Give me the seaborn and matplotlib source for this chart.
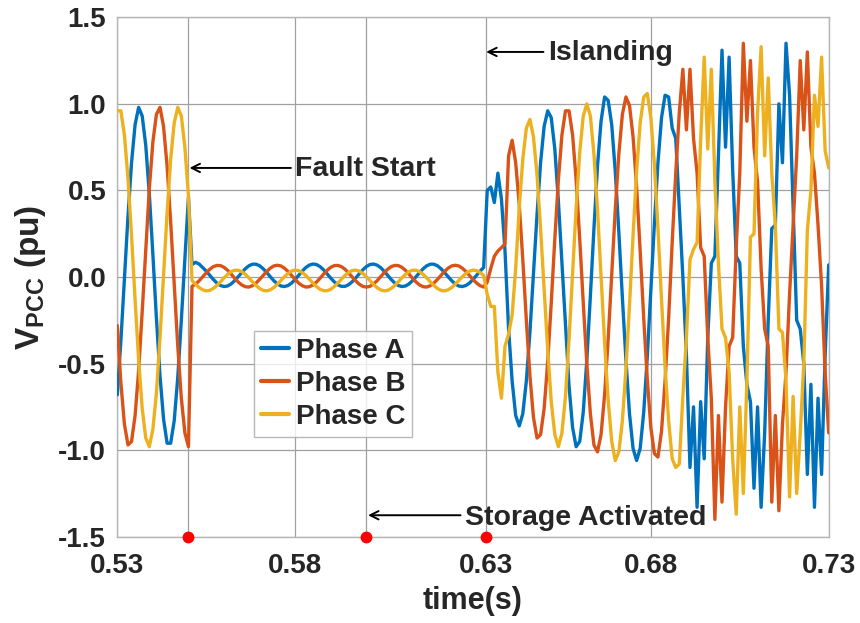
import numpy as np
import pandas as pd
import matplotlib
matplotlib.use('Agg')
import matplotlib.pyplot as plt
from matplotlib.lines import Line2D
import seaborn as sns

# ---------------- data ----------------
t_start = 0.530          # first sample time (s)
t_step = 0.001           # sample spacing (s)

# Phase A (blue)
phase_a_pre = [-0.68, -0.37, -0.01, 0.35, 0.66, 0.88, 0.98, 0.93, 0.76, 0.48, 0.13,
               -0.24, -0.57, -0.82, -0.96, -0.96, -0.83, -0.58, -0.25, 0.11, 0.46]
phase_a_fault = [0.072, 0.085, 0.075, 0.055, 0.034, 0.010, -0.014, -0.035, -0.049, -0.055,
                 -0.052, -0.040, -0.021, 0.002, 0.026, 0.048, 0.065, 0.074, 0.074, 0.065,
                 0.048, 0.026, 0.002, -0.021, -0.040, -0.052, -0.055, -0.049, -0.035, -0.014,
                 0.010, 0.034, 0.055, 0.069, 0.075, 0.072, 0.060, 0.041, 0.018, -0.006,
                 -0.028, -0.045, -0.054, -0.054, -0.045, -0.028, -0.006, 0.018, 0.041, 0.060,
                 0.072, 0.075, 0.069, 0.055, 0.034, 0.010, -0.014, -0.035, -0.049, -0.055,
                 -0.052, -0.040, -0.021, 0.002, 0.026, 0.048, 0.065, 0.074, 0.074, 0.065,
                 0.048, 0.026, 0.002, -0.021, -0.040, -0.052, -0.055, -0.049, -0.035, -0.014,
                 0.010, 0.034, 0.055]
phase_a_island = [0.50, 0.52, 0.43, 0.60, 0.45, 0.15, -0.30, -0.60, -0.80, -0.86,
                  -0.79, -0.60, -0.32, 0.02, 0.36, 0.66, 0.87, 0.96, 0.92, 0.74,
                  0.44, 0.08, -0.29, -0.63, -0.87, -0.98, -0.95, -0.78, -0.48, -0.11,
                  0.28, 0.64, 0.90, 1.04, 1.02, 0.88, 0.61, 0.26, -0.12, -0.48,
                  -0.79, -0.99, -1.06, -0.99, -0.78, -0.46, -0.08, 0.31, 0.66, 0.92,
                  1.05, 1.04, 0.86, 0.80, 0.40, 0.00, -0.45, -1.10, -0.75, -1.33,
                  -0.72, -1.05, -0.35, 0.08, 0.12, 0.70, 1.31, 0.75, 1.27, 0.62,
                  0.12, 0.08, -0.40, -0.62, -0.72, -1.22, -0.75, -1.33, -0.90, -0.25,
                  0.28, 0.30, 1.00, 0.66, 1.35, 1.05, 0.40, -0.25, -0.30, -0.50,
                  -1.14, -0.62, -1.33, -0.70, -1.14, -0.45, 0.07]

# Phase B (orange)
phase_b_pre = [-0.28, -0.61, -0.85, -0.97, -0.95, -0.80, -0.54, -0.20, 0.16, 0.51, 0.78,
               0.94, 0.98, 0.87, 0.64, 0.32, -0.04, -0.40, -0.70, -0.90, -0.98]
phase_b_fault = [-0.054, -0.041, -0.022, 0.001, 0.024, 0.045, 0.060, 0.067, 0.066, 0.056,
                 0.039, 0.017, -0.007, -0.029, -0.046, -0.056, -0.058, -0.050, -0.035, -0.014,
                 0.009, 0.032, 0.051, 0.064, 0.068, 0.064, 0.051, 0.032, 0.009, -0.014,
                 -0.035, -0.050, -0.058, -0.056, -0.046, -0.029, -0.007, 0.017, 0.039, 0.056,
                 0.066, 0.067, 0.060, 0.045, 0.024, 0.001, -0.022, -0.041, -0.054, -0.058,
                 -0.054, -0.041, -0.022, 0.001, 0.024, 0.045, 0.060, 0.067, 0.066, 0.056,
                 0.039, 0.017, -0.007, -0.029, -0.046, -0.056, -0.058, -0.050, -0.035, -0.014,
                 0.009, 0.032, 0.051, 0.064, 0.068, 0.064, 0.051, 0.032, 0.009, -0.014,
                 -0.035, -0.050, -0.058]
phase_b_island = [-0.03, 0.05, 0.12, 0.15, 0.17, 0.19, 0.70, 0.79, 0.66, 0.42,
                  0.10, -0.25, -0.57, -0.81, -0.93, -0.91, -0.76, -0.49, -0.15, 0.22,
                  0.56, 0.82, 0.96, 0.96, 0.82, 0.56, 0.22, -0.15, -0.50, -0.79,
                  -0.97, -1.01, -0.91, -0.68, -0.36, 0.02, 0.39, 0.71, 0.94, 1.04,
                  0.99, 0.81, 0.52, 0.15, -0.24, -0.59, -0.87, -1.02, -1.04, -0.89,
                  -0.60, -0.24, 0.20, 0.60, 0.95, 1.20, 0.85, 1.20, 0.80, 0.60,
                  0.17, 0.12, -0.35, -0.70, -1.40, -0.80, -1.30, -0.75, -0.40, -0.35,
                  0.17, 0.60, 1.35, 0.90, 1.25, 0.75, 0.55, 0.05, -0.30, -0.40,
                  -1.30, -0.80, -1.35, -0.85, -0.55, -0.10, 0.30, 0.70, 1.25, 0.85,
                  1.30, 0.75, 0.60, 0.30, -0.05, -0.55, -0.90]

# Phase C (yellow)
phase_c_pre = [0.96, 0.96, 0.82, 0.57, 0.24, -0.13, -0.48, -0.76, -0.93, -0.98, -0.88,
               -0.67, -0.35, 0.01, 0.37, 0.68, 0.89, 0.98, 0.93, 0.75, 0.47]
phase_c_fault = [-0.020, -0.042, -0.061, -0.074, -0.080, -0.077, -0.066, -0.049, -0.028, -0.005,
                 0.015, 0.031, 0.039, 0.039, 0.031, 0.015, -0.005, -0.028, -0.049, -0.066,
                 -0.077, -0.080, -0.074, -0.061, -0.042, -0.020, 0.002, 0.021, 0.034, 0.040,
                 0.037, 0.026, 0.009, -0.013, -0.035, -0.055, -0.071, -0.079, -0.079, -0.071,
                 -0.055, -0.035, -0.013, 0.009, 0.026, 0.037, 0.040, 0.034, 0.021, 0.002,
                 -0.020, -0.042, -0.061, -0.074, -0.080, -0.077, -0.066, -0.049, -0.028, -0.005,
                 0.015, 0.031, 0.039, 0.039, 0.031, 0.015, -0.005, -0.028, -0.049, -0.066,
                 -0.077, -0.080, -0.074, -0.061, -0.042, -0.020, 0.002, 0.021, 0.034, 0.040,
                 0.037, 0.026, 0.009]
phase_c_island = [-0.10, -0.17, -0.17, -0.55, -0.70, -0.40, -0.33, -0.22, 0.05, 0.40,
                  0.68, 0.86, 0.91, 0.81, 0.59, 0.28, -0.07, -0.42, -0.72, -0.91,
                  -0.98, -0.90, -0.69, -0.36, 0.02, 0.40, 0.72, 0.93, 1.00, 0.93,
                  0.71, 0.39, 0.01, -0.38, -0.71, -0.95, -1.06, -1.01, -0.83, -0.53,
                  -0.16, 0.24, 0.61, 0.89, 1.04, 1.06, 0.92, 0.65, 0.28, -0.13,
                  -0.52, -0.83, -1.05, -1.10, -1.08, -0.69, -0.35, 0.10, 0.16, 0.20,
                  0.79, 1.27, 0.74, 1.20, 0.56, 0.08, -0.30, -0.35, -0.55, -1.05,
                  -1.37, -0.75, -1.25, -0.60, 0.23, 0.25, 0.95, 1.33, 0.70, 1.15,
                  0.60, 0.30, -0.30, -0.32, -0.60, -1.27, -0.69, -1.25, -0.90, -0.50,
                  0.27, 0.50, 1.05, 0.87, 1.27, 0.73, 0.63]

phase_names = ['Phase A', 'Phase B', 'Phase C']
phase_colors = ['#0072BD', '#D95319', '#EDB120']

xtick_values = [0.53, 0.55, 0.58, 0.60, 0.6336, 0.68, 0.73]
xtick_labels = ['0.53', '', '0.58', '', '0.63', '0.68', '0.73']
ytick_values = [-1.5, -1.0, -0.5, 0.0, 0.5, 1.0, 1.5]
ytick_labels = ['-1.5', '-1.0', '-0.5', '0.0', '0.5', '1.0', '1.5']
event_times = [0.55, 0.60, 0.6336]
event_level = -1.5

# ---------------- build long table ----------------
series = [phase_a_pre + phase_a_fault + phase_a_island,
          phase_b_pre + phase_b_fault + phase_b_island,
          phase_c_pre + phase_c_fault + phase_c_island]
n = len(series[0])
time = np.round(t_start + t_step * np.arange(n), 4)
frames = []
for name, vals in zip(phase_names, series):
    assert len(vals) == n, (name, len(vals))
    frames.append(pd.DataFrame({'t': time, 'v': vals, 'phase': name}))
df = pd.concat(frames, ignore_index=True)

# ---------------- styling ----------------
sns.set_theme(style='white')
plt.rcParams['font.family'] = ['Liberation Sans', 'DejaVu Sans']
plt.rcParams['font.weight'] = 'bold'
plt.rcParams['mathtext.fontset'] = 'custom'
plt.rcParams['mathtext.rm'] = 'Liberation Sans:bold'
plt.rcParams['mathtext.bf'] = 'Liberation Sans:bold'
plt.rcParams['mathtext.it'] = 'Liberation Sans:bold'

fig = plt.figure(figsize=(8.6, 6.23), dpi=100)
ax = fig.add_axes([0.1364, 0.1385, 0.8272, 0.8337])

sns.lineplot(data=df, x='t', y='v', hue='phase', hue_order=phase_names,
             palette=phase_colors, estimator=None, sort=False, lw=2.4,
             legend=False, ax=ax, zorder=3)

ax.set_xlim(0.53, 0.73)
ax.set_ylim(-1.5, 1.5)
ax.set_xticks(xtick_values)
ax.set_xticklabels(xtick_labels)
ax.set_yticks(ytick_values)
ax.set_yticklabels(ytick_labels)
ax.tick_params(axis='both', length=0, labelsize=20, colors='#262626')
ax.tick_params(axis='x', pad=12)
ax.tick_params(axis='y', pad=8)
for lab in ax.get_xticklabels() + ax.get_yticklabels():
    lab.set_fontweight('bold')
ax.grid(True, color='#a0a0a0', lw=0.9)
ax.set_axisbelow(True)
for sp in ax.spines.values():
    sp.set_color('#b5b5b5')
    sp.set_linewidth(1.0)

ax.set_xlabel('time(s)', fontsize=22, fontweight='bold', color='#262626', labelpad=5)
ax.set_ylabel(r'V$_{\mathrm{PCC}}$ (pu)', fontsize=24, fontweight='bold',
              color='#262626')
ax.yaxis.set_label_coords(-0.098, 0.5)

# event markers
ax.plot(event_times, [event_level] * len(event_times), 'o', color='red',
        ms=7.5, clip_on=False, zorder=5)

# annotations
arrow_kw = dict(arrowstyle='->,head_length=0.5,head_width=0.25', lw=1.4,
                color='black', shrinkA=0, shrinkB=0)
ax.annotate('', xy=(0.5503, 0.63), xytext=(0.5788, 0.63), arrowprops=arrow_kw, zorder=6)
ax.text(0.5800, 0.625, 'Fault Start', fontsize=20.5, fontweight='bold', va='center', ha='left')
ax.annotate('', xy=(0.6337, 1.30), xytext=(0.6498, 1.30), arrowprops=arrow_kw, zorder=6)
ax.text(0.6510, 1.295, 'Islanding', fontsize=20.5, fontweight='bold', va='center', ha='left')
ax.annotate('', xy=(0.6005, -1.376), xytext=(0.6265, -1.376), arrowprops=arrow_kw, zorder=6)
ax.text(0.6278, -1.39, 'Storage Activated', fontsize=20.5, fontweight='bold', va='center', ha='left')

handles = [Line2D([0], [0], color=c, lw=3) for c in phase_colors]
leg = ax.legend(handles, phase_names, loc='upper left',
                bbox_to_anchor=(254 / 860, 1 - 331 / 623), bbox_transform=fig.transFigure,
                borderaxespad=0, frameon=True, fancybox=False,
                handlelength=1.0, handletextpad=0.25, labelspacing=0.25,
                borderpad=0.25, prop={'weight': 'bold', 'size': 20})
leg.get_frame().set_edgecolor('#a8a8a8')
leg.get_frame().set_linewidth(1.0)
leg.set_zorder(7)

fig.savefig('out.png', dpi=100)
